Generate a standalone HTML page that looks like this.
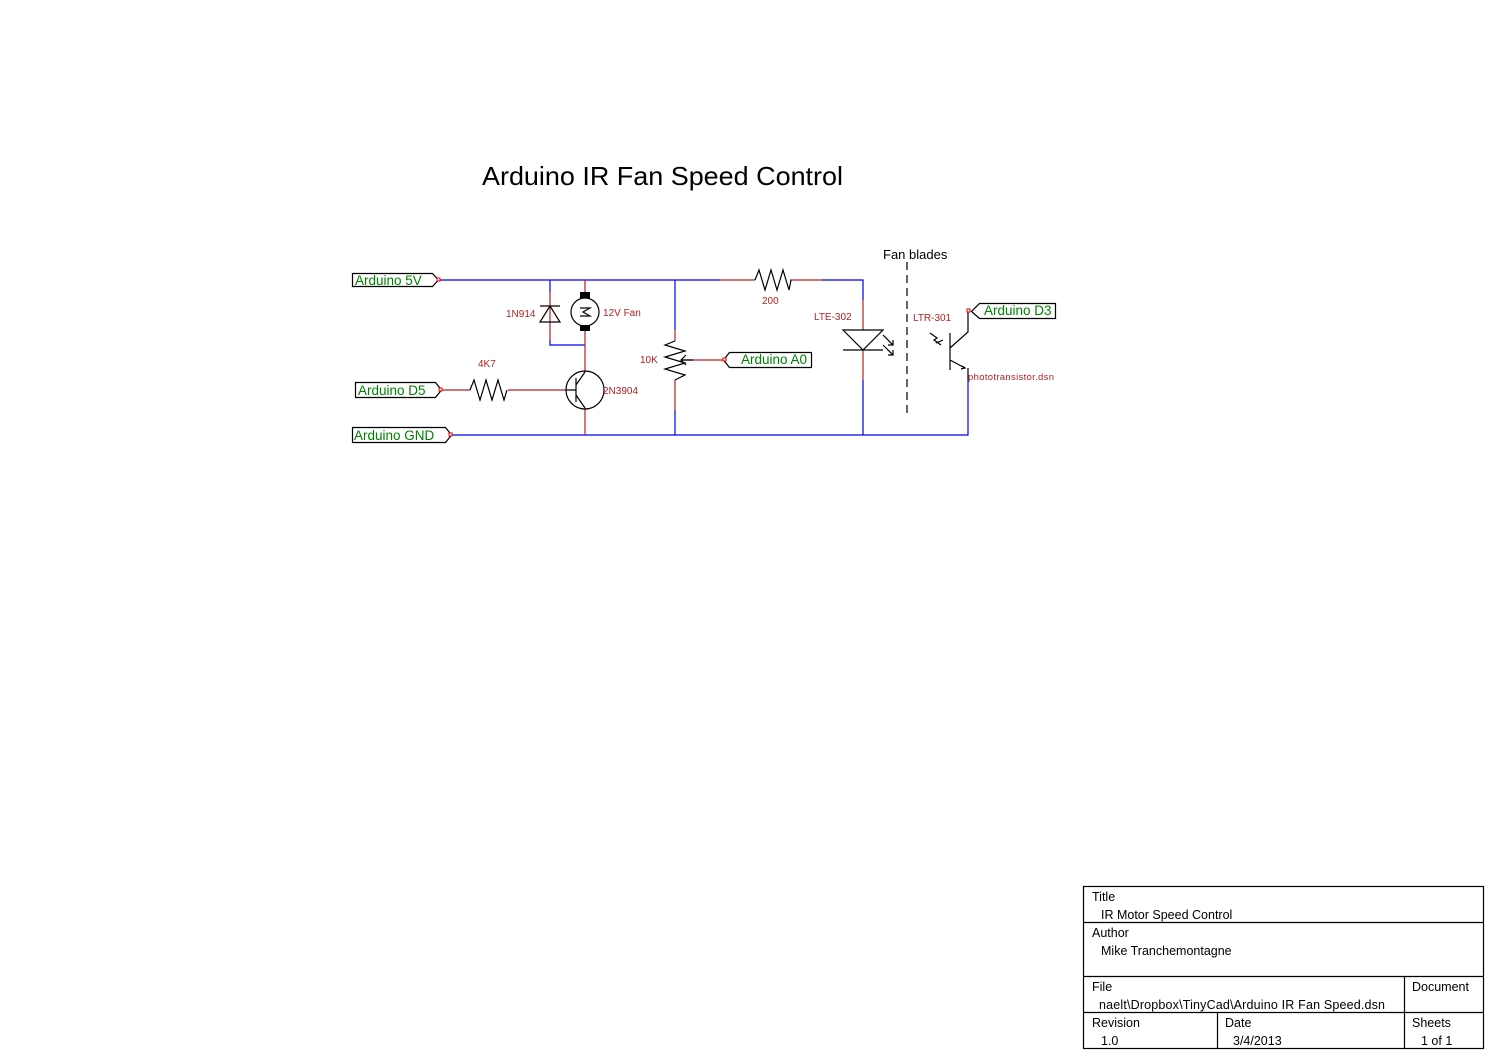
<!DOCTYPE html>
<html><head><meta charset="utf-8"><style>
html,body{margin:0;padding:0;background:#fff;width:1495px;height:1060px;overflow:hidden}
text{font-family:"Liberation Sans",sans-serif}
</style></head><body>
<svg width="1495" height="1060" viewBox="0 0 1495 1060" xmlns="http://www.w3.org/2000/svg">
<text x="482" y="185" font-size="26" fill="#000" textLength="361" lengthAdjust="spacingAndGlyphs">Arduino IR Fan Speed Control</text>
<g fill="none" stroke-width="1.2">
<g stroke="#0000ee">
<path d="M439 280H720"/>
<path d="M822 280H863V300"/>
<path d="M863 380V435"/>
<path d="M451 435H968V380"/>
<path d="M550 280V292"/>
<path d="M550 340V345H585"/>
<path d="M675 280V330"/>
<path d="M675 410V435"/>
</g>
<g stroke="#b22222">
<path d="M720 280H755"/><path d="M790 280H822"/>
<path d="M863 300V330"/><path d="M863 350V380"/>
<path d="M550 292V340"/>
<path d="M585 280V295"/><path d="M585 328V372"/>
<path d="M585 408V435"/>
<path d="M441 390H470"/><path d="M508 390H567"/>
<path d="M675 330V341"/><path d="M675 380V410"/>
<path d="M683 360H724"/>
</g>
<g stroke="#000">
<path d="M755 280l4-10 6 20 6-20 6 20 6-20 6 20 2-10"/>
<path d="M470 390l4-10 6 20 6-20 6 20 6-20 6 20 3-10"/>
<path d="M675 341l-10 4 20 6-20 6 20 6-20 6 20 6-10 5"/>
<path d="M693 360h-12l5-5M681 360l5 5"/>
<path d="M540 322h20l-10-16zM540 306h20"/>
<circle cx="585" cy="312" r="14"/>
<path d="M580 308h10l-7 4 7 4h-10"/>
<circle cx="585" cy="390" r="19"/>
<path d="M576 378v24M567 390h9M576 385l9-13M576 395l9 13"/>
<path d="M843 330h40l-20 20zM843 350h40"/>
<path d="M883 335l10 10M888 345h5v-5M883 345l10 10M888 355h5v-5"/>
<path d="M907 262V413" stroke-dasharray="8,5"/>
<path d="M950 333v37M950 348l18-16V311M950 360l15 8M968 368v12"/>
<path d="M930 333l7 5-3 2 7 5M936 343l7-3"/>
<rect x="1083.5" y="886.5" width="400" height="162"/>
<path d="M1083 922.5H1484M1083 976.5H1484M1083 1012.5H1484M1404.5 976V1049M1217.5 1012V1049"/>
<path d="M352.5 273.5h80l6 6.5-6 6.5h-80z"/>
<path d="M355.5 382.5h80l6 7.5-6 7.5h-80z"/>
<path d="M352.5 427.5h93l6 7.5-6 7.5h-93z"/>
<path d="M811.5 352.5h-82l-6 7.5 6 7.5h82z"/>
<path d="M1055.5 303.5h-76l-8 8 8 7h76z"/>
</g>
<path d="M962 366l3 2-4 1" stroke="#000" fill="none"/>
</g>
<g fill="#fff" stroke="#e00000" stroke-width="1">
<rect x="437" y="278" width="3" height="3"/><rect x="439" y="388" width="3" height="3"/>
<rect x="449" y="433" width="3" height="3"/><rect x="723" y="358" width="3" height="3"/>
<rect x="967" y="309" width="3" height="3"/>
</g>
<rect x="580" y="292" width="10" height="6" fill="#000"/>
<rect x="580" y="325" width="10" height="6" fill="#000"/>
<g fill="#008000" font-size="13.5">
<text x="355" y="285">Arduino 5V</text>
<text x="358" y="395">Arduino D5</text>
<text x="354" y="440">Arduino GND</text>
<text x="741" y="364">Arduino A0</text>
<text x="984" y="315">Arduino D3</text>
</g>
<g fill="#b22222" font-size="10">
<text x="506" y="317">1N914</text>
<text x="603" y="316">12V Fan</text>
<text x="478" y="367">4K7</text>
<text x="603" y="394">2N3904</text>
<text x="640" y="363">10K</text>
<text x="762" y="304">200</text>
<text x="814" y="320">LTE-302</text>
<text x="913" y="321">LTR-301</text>
<text x="968" y="380" font-size="9.5" textLength="86">phototransistor.dsn</text>
</g>
<text x="883" y="259" font-size="13" fill="#000">Fan blades</text>
<g font-size="12.5" fill="#000">
<text x="1092" y="901">Title</text>
<text x="1101" y="919">IR Motor Speed Control</text>
<text x="1092" y="937">Author</text>
<text x="1101" y="955">Mike Tranchemontagne</text>
<text x="1092" y="991">File</text>
<text x="1412" y="991">Document</text>
<text x="1099" y="1009" textLength="286">naelt\Dropbox\TinyCad\Arduino IR Fan Speed.dsn</text>
<text x="1092" y="1027">Revision</text>
<text x="1225" y="1027">Date</text>
<text x="1412" y="1027">Sheets</text>
<text x="1101" y="1045">1.0</text>
<text x="1233" y="1045">3/4/2013</text>
<text x="1421" y="1045">1 of 1</text>
</g>
</svg>
</body></html>
